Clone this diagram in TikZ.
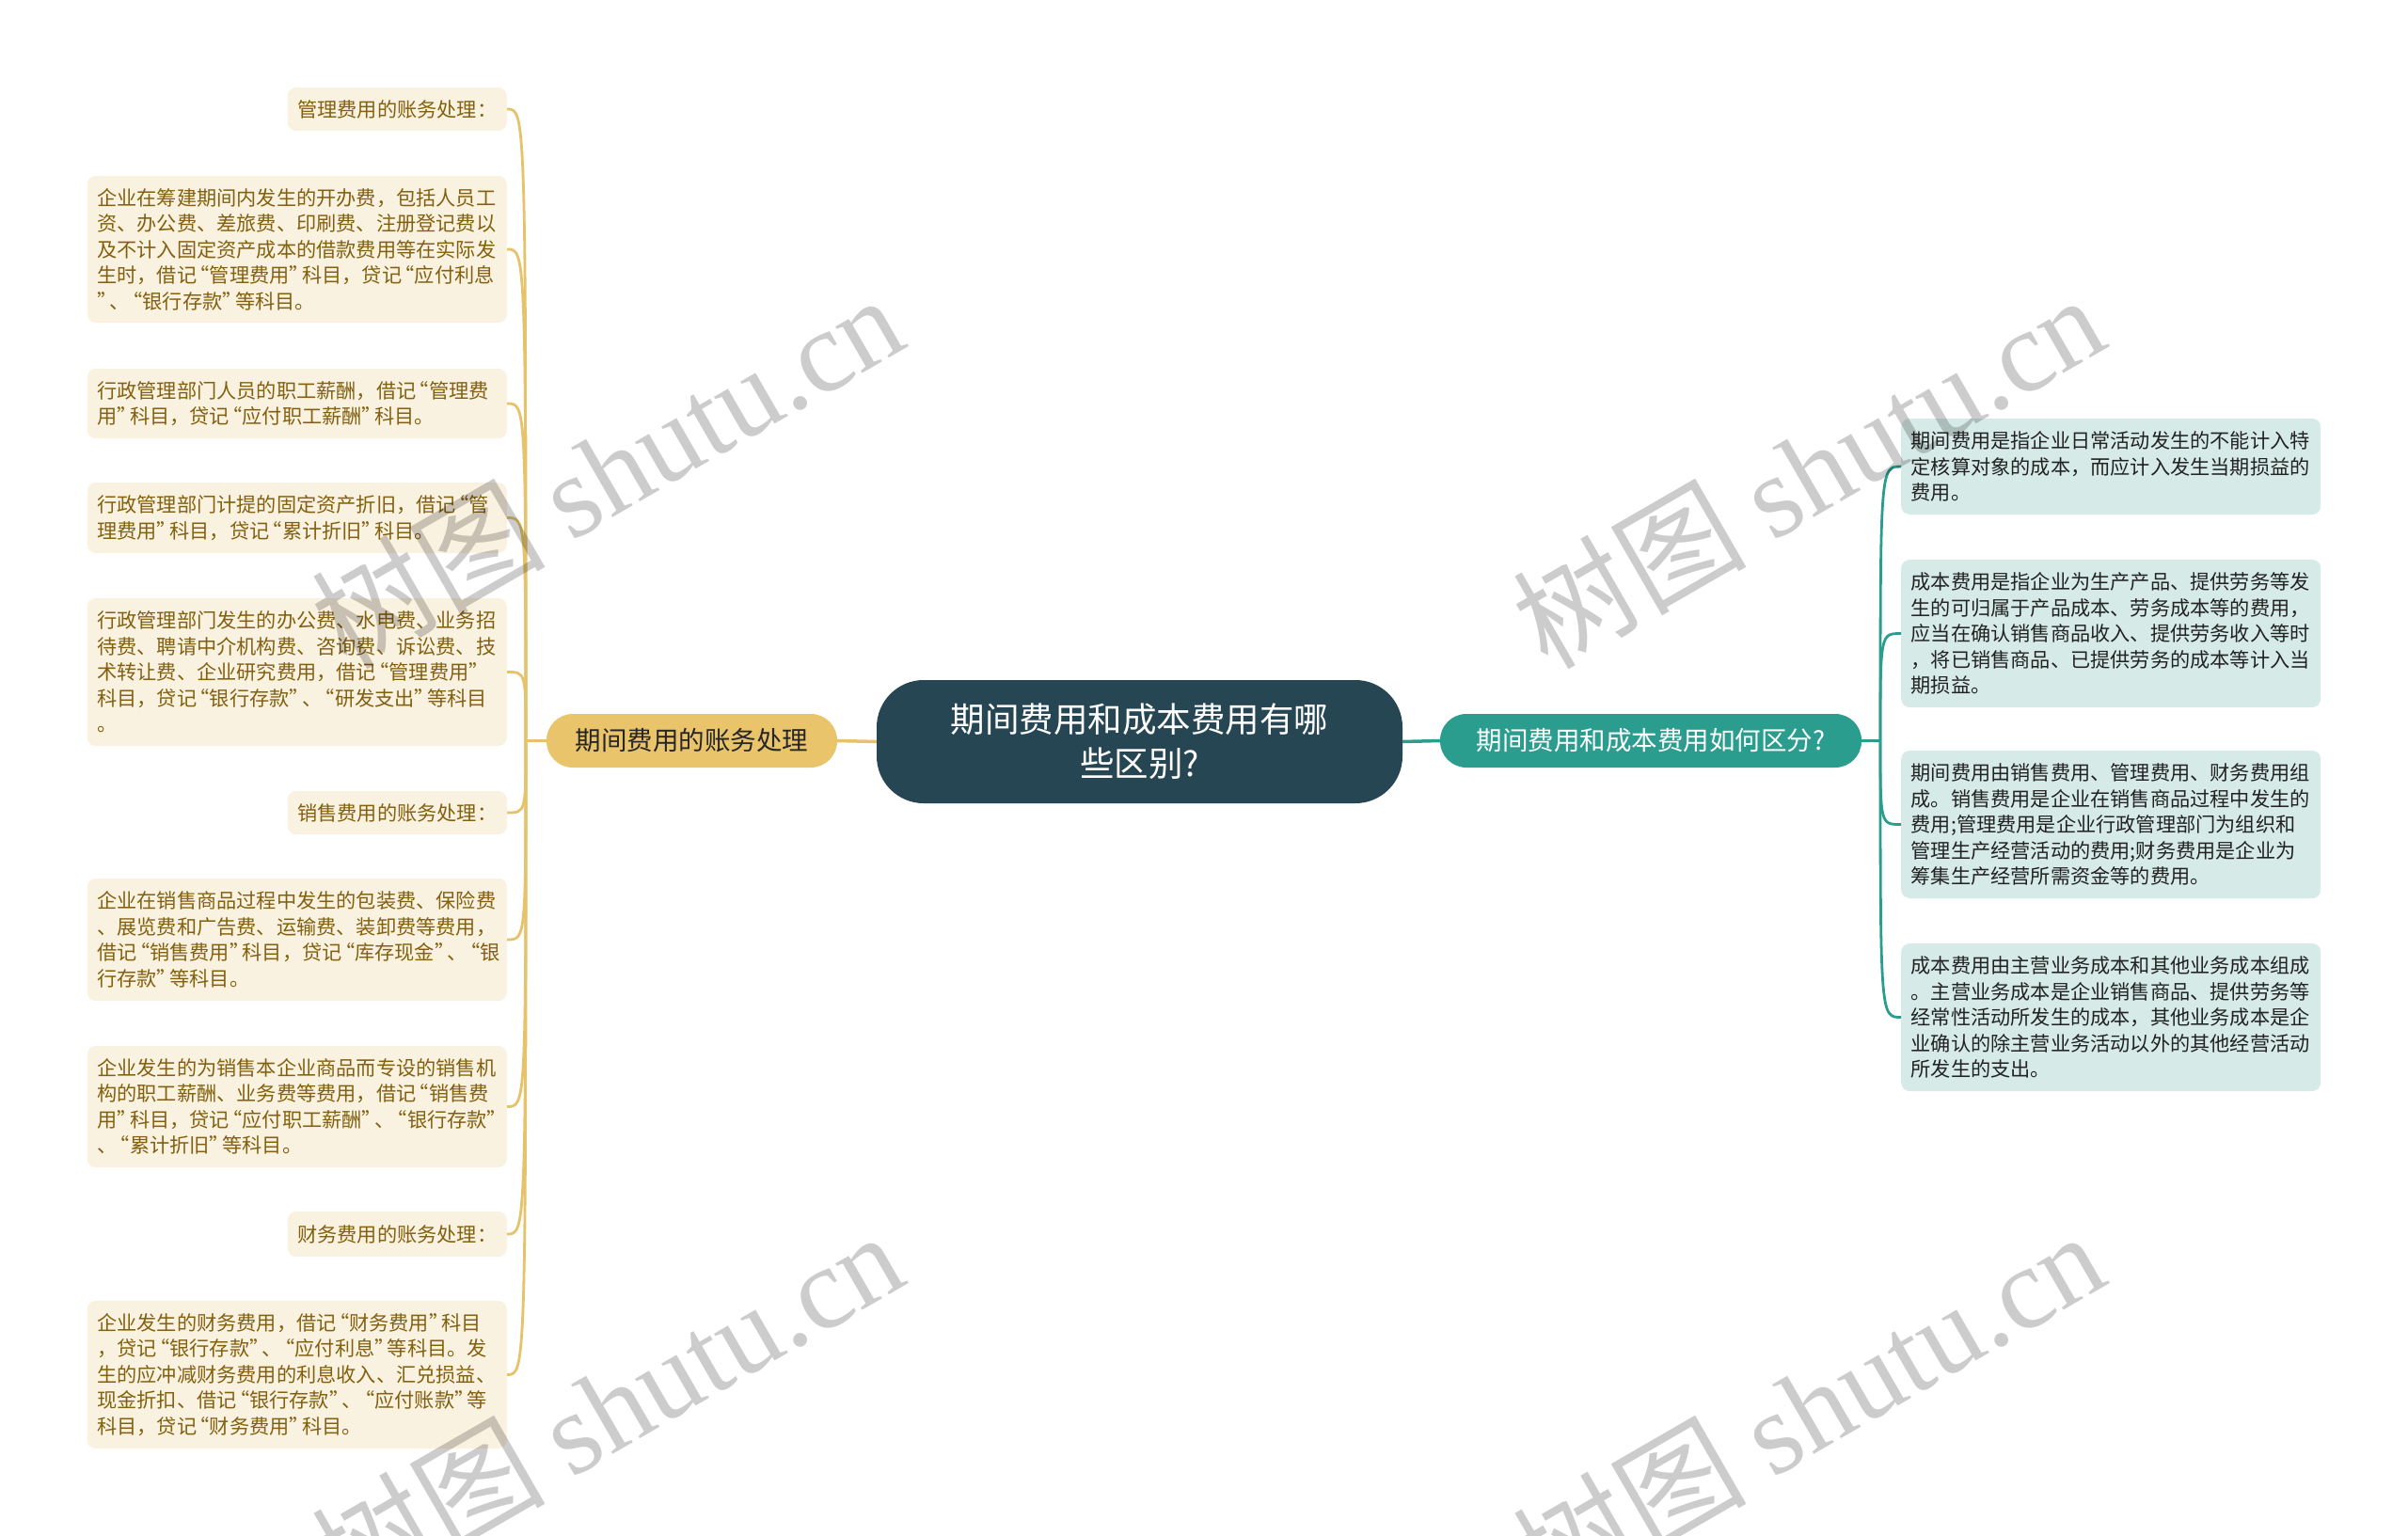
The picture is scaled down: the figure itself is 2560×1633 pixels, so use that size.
\documentclass[tikz,border=0pt]{standalone}
\usepackage{fontspec}
\setmainfont{Noto Sans CJK SC}
\newfontfamily\wmserif{Liberation Serif}
\catcode`“=13 \def“{\makebox[0.64em][r]{\char"201C}}
\catcode`”=13 \def”{\makebox[0.64em][l]{\char"201D}}
\definecolor{cfill}{HTML}{264653}
\definecolor{lbfill}{HTML}{E9C46A}
\definecolor{rbfill}{HTML}{2A9D8F}
\definecolor{leafLfill}{HTML}{FAF2E0}
\definecolor{leafLtext}{HTML}{82600F}
\definecolor{leafRfill}{HTML}{D6EBE8}
\definecolor{leafRtext}{HTML}{222222}
\definecolor{lineL}{HTML}{E6C36A}
\definecolor{lineR}{HTML}{2A9D8F}
\tikzset{
  leafL/.style={fill=leafLfill, text=leafLtext, rounded corners=9pt, anchor=east,
    inner xsep=10.5pt, inner ysep=0pt, align=left,
    font=\fontsize{21.2}{27.5}\selectfont},
  longL/.style={leafL, text width=425pt},
  leafR/.style={fill=leafRfill, text=leafRtext, rounded corners=9pt, anchor=west,
    inner xsep=10.5pt, inner ysep=0pt, align=left, text width=425pt,
    font=\fontsize{21.2}{27.5}\selectfont},
  branchbox/.style={rounded corners=28pt, minimum height=57pt, inner sep=0pt,
    font=\fontsize{27.5}{33}\selectfont},
  connL/.style={draw=lineL, line width=2.8pt},
  connR/.style={draw=lineR, line width=2.8pt},
  wm/.style={text=black, opacity=0.2, rotate=30, inner sep=0pt,
    font=\fontsize{124}{140}\selectfont}
}
\begin{document}
\begin{tikzpicture}[x=1pt,y=-1pt]
\useasboundingbox (0,0) rectangle (2560,1633);
\fill[white] (0,0) rectangle (2560,1633);

% central and branches
\node[fill=cfill, text=white, rounded corners=50pt, minimum width=559pt, minimum height=131pt,
  inner sep=0pt, align=center, font=\fontsize{36.5}{47}\selectfont] (c) at (1211.5,788.5)
  {期间费用和成本费用有哪\\些区别?};
\node[branchbox, fill=lbfill, text=black!85, minimum width=309pt] (lb) at (735.5,787.5) {期间费用的账务处理};
\node[branchbox, fill=rbfill, text=white, minimum width=448pt] (rb) at (1755,787.5) {期间费用和成本费用如何区分?};

% left leaves
\node[leafL, minimum height=46pt] (l1) at (539,116) {管理费用的账务处理：};
\node[longL, minimum height=156pt] (l2) at (539,265) {企业在筹建期间内发生的开办费，包括人员工\\资、办公费、差旅费、印刷费、注册登记费以\\及不计入固定资产成本的借款费用等在实际发\\生时，借记“管理费用”科目，贷记“应付利息\\”、“银行存款”等科目。};
\node[longL, minimum height=74pt] (l3) at (539,429) {行政管理部门人员的职工薪酬，借记“管理费\\用”科目，贷记“应付职工薪酬”科目。};
\node[longL, minimum height=75pt] (l4) at (539,550.5) {行政管理部门计提的固定资产折旧，借记“管\\理费用”科目，贷记“累计折旧”科目。};
\node[longL, minimum height=157pt] (l5) at (539,714.5) {行政管理部门发生的办公费、水电费、业务招\\待费、聘请中介机构费、咨询费、诉讼费、技\\术转让费、企业研究费用，借记“管理费用”\\科目，贷记“银行存款”、“研发支出”等科目\\。};
\node[leafL, minimum height=46pt] (l6) at (539,864) {销售费用的账务处理：};
\node[longL, minimum height=130pt] (l7) at (539,999) {企业在销售商品过程中发生的包装费、保险费\\、展览费和广告费、运输费、装卸费等费用，\\借记“销售费用”科目，贷记“库存现金”、“银\\行存款”等科目。};
\node[longL, minimum height=129pt] (l8) at (539,1176.5) {企业发生的为销售本企业商品而专设的销售机\\构的职工薪酬、业务费等费用，借记“销售费\\用”科目，贷记“应付职工薪酬”、“银行存款”\\、“累计折旧”等科目。};
\node[leafL, minimum height=48pt] (l9) at (539,1312) {财务费用的账务处理：};
\node[longL, minimum height=157pt] (l10) at (539,1461.5) {企业发生的财务费用，借记“财务费用”科目\\，贷记“银行存款”、“应付利息”等科目。发\\生的应冲减财务费用的利息收入、汇兑损益、\\现金折扣、借记“银行存款”、“应付账款”等\\科目，贷记“财务费用”科目。};

% right leaves
\node[leafR, minimum height=102pt] (r1) at (2021,496) {期间费用是指企业日常活动发生的不能计入特\\定核算对象的成本，而应计入发生当期损益的\\费用。};
\node[leafR, minimum height=157pt] (r2) at (2021,673.5) {成本费用是指企业为生产产品、提供劳务等发\\生的可归属于产品成本、劳务成本等的费用，\\应当在确认销售商品收入、提供劳务收入等时\\，将已销售商品、已提供劳务的成本等计入当\\期损益。};
\node[leafR, minimum height=157pt] (r3) at (2021,876.5) {期间费用由销售费用、管理费用、财务费用组\\成。销售费用是企业在销售商品过程中发生的\\费用;管理费用是企业行政管理部门为组织和\\管理生产经营活动的费用;财务费用是企业为\\筹集生产经营所需资金等的费用。};
\node[leafR, minimum height=157pt] (r4) at (2021,1081.5) {成本费用由主营业务成本和其他业务成本组成\\。主营业务成本是企业销售商品、提供劳务等\\经常性活动所发生的成本，其他业务成本是企\\业确认的除主营业务活动以外的其他经营活动\\所发生的支出。};

% connectors
\coordinate (ls) at (559,787.5);
\coordinate (rs) at (1999,787.5);
\draw[connL, line width=3.5pt] (c.west) -- (lb.east);
\draw[connR, line width=3.5pt] (c.east) -- (rb.west);
\draw[connL, line width=3.2pt] (lb.west) -- (ls);
\draw[connR, line width=3.2pt] (rb.east) -- (rs);
\foreach \n in {l1,l2,l3,l4,l5,l6,l7,l8,l9,l10}{
  \draw[connL] (ls) .. controls (ls |- \n.east) .. (\n.east);
}
\foreach \n in {r1,r2,r3,r4}{
  \draw[connR] (rs) .. controls (rs |- \n.west) .. (\n.west);
}

% watermarks
\node[wm] (w1) at (645,500) {树图 {\wmserif shutu.cn}};
\node[wm] (w2) at (1922,500) {树图 {\wmserif shutu.cn}};
\node[wm] (w3) at (645,1496) {树图 {\wmserif shutu.cn}};
\node[wm] (w4) at (1922,1496) {树图 {\wmserif shutu.cn}};
\end{tikzpicture}
\end{document}
